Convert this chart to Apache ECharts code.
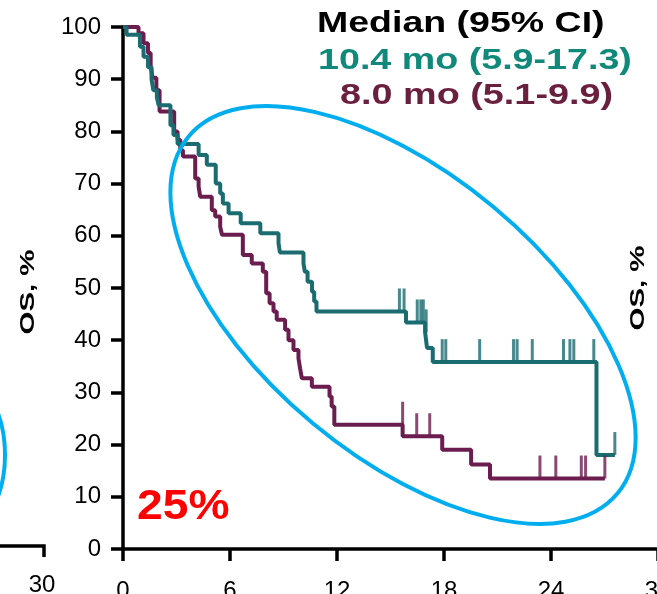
<!DOCTYPE html>
<html>
<head>
<meta charset="utf-8">
<script src="https://cdn.jsdelivr.net/npm/echarts@6.0.0/dist/echarts.min.js"></script>
<style>
  html, body { margin: 0; padding: 0; background: #fff; }
  #main { width: 657px; height: 594px; }
</style>
</head>
<body>
<div id="main"></div>
<script>
// months since start, OS %
var tealTimes = [0, 0.2, 0.95, 1.15, 1.4, 1.6, 1.7, 1.9, 2.0, 2.66, 2.83, 3.06, 4.24, 4.7, 5.2, 5.45, 5.6, 5.92, 6.6, 7.7, 8.72, 8.8, 10.12, 10.2, 10.35, 10.6, 10.72, 10.85, 15.87, 16.94, 17.05, 17.37, 26.55, 27.58];
var tealSurv = [100, 98.5, 96.2, 94.3, 92.3, 90, 87.9, 86.5, 85, 81.2, 79.3, 77.6, 75.5, 73.6, 70, 68.1, 66.2, 64.3, 62.4, 60.5, 58.6, 56.8, 54.7, 53.1, 51.2, 49.3, 47.4, 45.5, 43.4, 41.5, 38.5, 35.8, 18, 18];
var tealCensorTimes = [15.5, 15.76, 16.5, 16.7, 16.84, 17.0, 17.9, 18.1, 20.0, 21.9, 22.1, 22.95, 24.7, 25.06, 25.28, 26.4, 27.58];
var tealCensorSurv = [45.5, 45.5, 43.4, 43.4, 43.4, 41.5, 35.8, 35.8, 35.8, 35.8, 35.8, 35.8, 35.8, 35.8, 35.8, 35.8, 18];

var purpleTimes = [0, 0.87, 1.15, 1.4, 1.55, 1.65, 1.87, 2.05, 2.87, 3.06, 3.21, 3.36, 4.05, 4.24, 4.33, 4.98, 5.17, 5.45, 5.55, 6.72, 7.22, 7.84, 8.03, 8.22, 8.44, 8.62, 9.09, 9.28, 9.56, 9.84, 9.93, 10.03, 10.59, 11.58, 11.7, 11.85, 15.68, 17.9, 19.52, 20.58, 27.02];
var purpleSurv = [100, 98.8, 96.9, 95, 92.7, 90.3, 87.9, 83.8, 80, 78.4, 76.4, 75.2, 71, 69.4, 67.5, 64.9, 63.7, 61.7, 60.2, 56.3, 54.7, 53.1, 49, 47.1, 45.5, 43.9, 42, 40, 38.1, 36.5, 34.6, 32.7, 31.1, 29.2, 27.3, 23.8, 21.6, 19, 16.2, 13.5, 13.5];
var purpleCensorTimes = [15.68, 16.47, 17.2, 23.38, 24.27, 25.7, 25.94, 27.02];
var purpleCensorSurv = [23.8, 21.6, 21.6, 13.5, 13.5, 13.5, 13.5, 13.5];

var legendLines = ['Median (95% CI)', '10.4 mo (5.9-17.3)', '8.0 mo (5.1-9.9)'];

var tealLine = '#1a6c70';
var purpleLine = '#6b1d4f';

function pairs(xs, ys) {
  var out = [];
  for (let i = 0; i < xs.length; i++) {
    out.push([xs[i], ys[i]]);
  }
  return out;
}

var myChart = echarts.init(document.getElementById('main'));

var axisFont = { color: '#000', fontSize: 24, fontFamily: 'Liberation Sans, Arial, sans-serif' };

var option = {
  animation: false,
  grid: { left: 123, right: -1, top: 27, bottom: 45, outerBoundsMode: 'none', containLabel: false },
  xAxis: {
    type: 'value',
    min: 0,
    max: 30,
    interval: 6,
    splitLine: { show: false },
    axisLine: { lineStyle: { color: '#000', width: 3.5 } },
    axisTick: { length: 12, lineStyle: { color: '#000', width: 3.5 } },
    axisLabel: Object.assign({ margin: 30, hideOverlap: false }, axisFont)
  },
  yAxis: {
    type: 'value',
    min: 0,
    max: 100,
    interval: 10,
    splitLine: { show: false },
    axisLine: { show: true, lineStyle: { color: '#000', width: 3.5 } },
    axisTick: { show: true, length: 12, lineStyle: { color: '#000', width: 3.5 } },
    axisLabel: Object.assign({ margin: 22 }, axisFont)
  },
  series: [
    {
      type: 'line',
      step: 'end',
      showSymbol: false,
      data: pairs(tealTimes, tealSurv),
      lineStyle: { color: tealLine, width: 4 },
      z: 3
    },
    {
      type: 'line',
      step: 'end',
      showSymbol: false,
      data: pairs(purpleTimes, purpleSurv),
      lineStyle: { color: purpleLine, width: 4 },
      z: 2
    },
    {
      type: 'scatter',
      symbol: 'rect',
      symbolSize: [3, 23],
      symbolOffset: [0, -11.5],
      itemStyle: { color: tealLine },
      data: pairs(tealCensorTimes, tealCensorSurv),
      z: 4
    },
    {
      type: 'scatter',
      symbol: 'rect',
      symbolSize: [3, 23],
      symbolOffset: [0, -11.5],
      itemStyle: { color: purpleLine },
      data: pairs(purpleCensorTimes, purpleCensorSurv),
      z: 4
    }
  ],
  graphic: [
    // highlight ellipse
    {
      type: 'ellipse',
      x: 403, y: 315,
      rotation: -39.8 * Math.PI / 180,
      shape: { cx: 0, cy: 0, rx: 279, ry: 141 },
      style: { fill: 'none', stroke: '#00aeef', lineWidth: 4 },
      z: 10
    },
    // bits of the neighbouring panel on the left
    {
      type: 'ellipse',
      shape: { cx: -60, cy: 455, rx: 65, ry: 91 },
      style: { fill: 'none', stroke: '#00aeef', lineWidth: 4 },
      z: 10
    },
    {
      type: 'polyline',
      shape: { points: [[0, 546], [44, 546], [44, 557]] },
      style: { fill: 'none', stroke: '#000', lineWidth: 3.5 }
    },
    {
      type: 'text',
      x: 42, y: 585,
      style: { text: '30', font: '24px "Liberation Sans", Arial, sans-serif', fill: '#000', textAlign: 'center', textVerticalAlign: 'middle' }
    },
    {
      type: 'text',
      x: 28, y: 292,
      rotation: Math.PI / 2,
      scaleX: 1.4,
      style: { text: 'OS, %', font: 'bold 21px "Liberation Sans", Arial, sans-serif', fill: '#000', textAlign: 'center', textVerticalAlign: 'middle' }
    },
    {
      type: 'text',
      x: 638, y: 288,
      rotation: Math.PI / 2,
      scaleX: 1.4,
      style: { text: 'OS, %', font: 'bold 21px "Liberation Sans", Arial, sans-serif', fill: '#000', textAlign: 'center', textVerticalAlign: 'middle' }
    },
    // medians
    {
      type: 'text',
      x: 317, y: 24,
      scaleX: 1.25,
      style: { text: legendLines[0], font: 'bold 30px "Liberation Sans", Arial, sans-serif', fill: '#000', textAlign: 'left', textVerticalAlign: 'middle' },
      z: 20
    },
    {
      type: 'text',
      x: 318, y: 61,
      scaleX: 1.255,
      style: { text: legendLines[1], font: 'bold 30px "Liberation Sans", Arial, sans-serif', fill: '#10897b', textAlign: 'left', textVerticalAlign: 'middle' },
      z: 20
    },
    {
      type: 'text',
      x: 340, y: 96,
      scaleX: 1.26,
      style: { text: legendLines[2], font: 'bold 30px "Liberation Sans", Arial, sans-serif', fill: '#6a1f3f', textAlign: 'left', textVerticalAlign: 'middle' },
      z: 20
    },
    {
      type: 'text',
      x: 137, y: 507,
      scaleX: 1.1,
      style: { text: '25%', font: 'bold 42px "Liberation Sans", Arial, sans-serif', fill: '#ff0000', textAlign: 'left', textVerticalAlign: 'middle' },
      z: 20
    }
  ]
};

myChart.setOption(option);
</script>
</body>
</html>
